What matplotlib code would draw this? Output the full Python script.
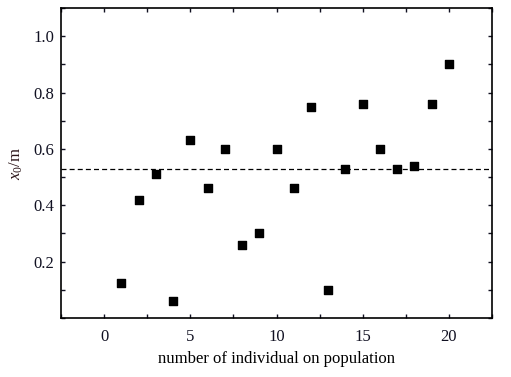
import matplotlib
matplotlib.use('Agg')
import matplotlib.pyplot as plt
from matplotlib.ticker import MultipleLocator

plt.rcParams['font.family'] = ['Liberation Serif', 'DejaVu Serif']
plt.rcParams['mathtext.fontset'] = 'custom'
plt.rcParams['mathtext.rm'] = 'Liberation Serif'
plt.rcParams['mathtext.it'] = 'Liberation Serif:italic'

individual = list(range(1, 21))
x0 = [0.125, 0.42, 0.51, 0.06, 0.63, 0.46, 0.60, 0.26, 0.30, 0.60,
      0.46, 0.75, 0.10, 0.53, 0.76, 0.60, 0.53, 0.54, 0.76, 0.90]
mean_x0 = 0.527

fig = plt.figure(figsize=(5.11, 3.77), dpi=100)
ax = fig.add_axes([61 / 511, 1 - 318 / 377, 431 / 511, 310 / 377])

ax.scatter(individual, x0, marker='s', s=26, color='black', zorder=3)
ax.axhline(mean_x0, color='black', linestyle=(0, (4, 2.5)), linewidth=0.9)

ax.set_xlim(-2.5, 22.5)
ax.set_ylim(0.0, 1.1)
ax.xaxis.set_major_locator(MultipleLocator(5))
ax.xaxis.set_minor_locator(MultipleLocator(2.5))
ax.yaxis.set_minor_locator(MultipleLocator(0.1))
ax.set_yticks([0.2, 0.4, 0.6, 0.8, 1.0])
ax.set_yticklabels(['0.2', '0.4', '0.6', '0.8', '1.0'])

ax.tick_params(which='both', direction='in', top=True, right=True,
               labelsize=12, colors='#111122', length=3.2, width=1.0)
ax.tick_params(axis='x', pad=8)
ax.tick_params(axis='y', pad=5)
for s in ax.spines.values():
    s.set_linewidth(1.2)

ax.set_xlabel('number of individual on population', fontsize=12, labelpad=4)
ax.set_ylabel(r'$x_0$/m', fontsize=12, color='#2a1418', labelpad=6)

fig.savefig('out.png', dpi=100)
